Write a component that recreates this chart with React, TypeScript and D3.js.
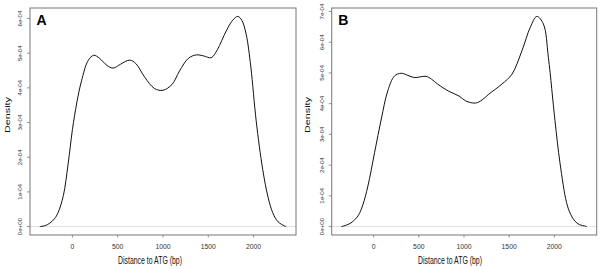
import React from "react";
import * as d3 from "d3";

const bpA = [-360, -300, -250, -200, -159, -100, -48, 0, 50, 100, 172, 235, 300, 380, 448, 530, 632, 700, 800, 907, 1000, 1100, 1183, 1280, 1367, 1450, 1532, 1600, 1698, 1770, 1826, 1870, 1918, 1970, 2029, 2101, 2160, 2212, 2270, 2341, 2360];
const densA = [0, 0.03, 0.1, 0.22, 0.4, 0.9, 1.8, 2.8, 3.6, 4.2, 4.78, 4.94, 4.85, 4.65, 4.57, 4.68, 4.8, 4.7, 4.3, 3.98, 3.93, 4.1, 4.49, 4.85, 4.95, 4.92, 4.87, 5.1, 5.64, 5.95, 6.06, 5.95, 5.55, 4.6, 3.05, 1.65, 0.85, 0.4, 0.14, 0.02, 0];

const bpB = [-355, -300, -250, -172, -120, -63, 11, 85, 157, 231, 304, 380, 451, 579, 640, 707, 835, 945, 1019, 1129, 1200, 1275, 1421, 1531, 1641, 1733, 1806, 1879, 1934, 2007, 2062, 2135, 2180, 2227, 2280, 2337, 2360];
const densB = [0, 0.05, 0.12, 0.35, 0.7, 1.32, 2.41, 3.5, 4.42, 4.9, 4.99, 4.92, 4.85, 4.89, 4.8, 4.64, 4.4, 4.25, 4.09, 4.02, 4.12, 4.31, 4.64, 4.96, 5.72, 6.48, 6.84, 6.59, 5.5, 3.45, 2.08, 0.78, 0.4, 0.18, 0.06, 0.02, 0];

const xTicks = [0, 500, 1000, 1500, 2000];
const yTicksA = [0, 1, 2, 3, 4, 5, 6];
const yTicksB = [0, 1, 2, 3, 4, 5, 6, 7];
const yTickLabels = ["0e+00", "1e-04", "2e-04", "3e-04", "4e-04", "5e-04", "6e-04", "7e-04"];

const FONT = "'Liberation Sans', Arial, Helvetica, sans-serif";

type PanelProps = {
  ox: number;
  left: number;
  right: number;
  letter: string;
  bp: number[];
  dens: number[];
  yTicks: number[];
};

function Panel({ ox, left, right, letter, bp, dens, yTicks }: PanelProps) {
  const top = 8;
  const bottom = 235;
  const xmin = d3.min(bp)!;
  const xmax = d3.max(bp)!;
  const xp = (xmax - xmin) * 0.04;
  const ymax = d3.max(dens)!;
  const yp = ymax * 0.04;
  const x = d3.scaleLinear().domain([xmin - xp, xmax + xp]).range([left, right]);
  const y = d3.scaleLinear().domain([-yp, ymax + yp]).range([bottom, top]);
  const pts: [number, number][] = bp.map((b, i) => [b, dens[i]]);
  const line = d3
    .line<[number, number]>()
    .x((d) => x(d[0]))
    .y((d) => y(d[1]))
    .curve(d3.curveCatmullRom.alpha(0.5));
  const gray = "#777";
  const midX = (left + right) / 2;
  return (
    <g>
      <line x1={left} x2={right} y1={y(0)} y2={y(0)} stroke="#d8d8d8" strokeWidth={0.8} />
      <path d={line(pts) || ""} fill="none" stroke="#111" strokeWidth={1} />
      <rect x={left} y={top} width={right - left} height={bottom - top} fill="none" stroke={gray} strokeWidth={1} />
      {xTicks.map((t) => (
        <g key={"x" + t}>
          <line x1={x(t)} x2={x(t)} y1={bottom} y2={bottom + 2.5} stroke={gray} strokeWidth={0.8} />
          <text x={x(t)} y={248.5} fontSize={6.8} textAnchor="middle" fill="#333" fontFamily={FONT}>
            {t}
          </text>
        </g>
      ))}
      {yTicks.map((t) => (
        <g key={"y" + t}>
          <line x1={left - 3} x2={left} y1={y(t)} y2={y(t)} stroke={gray} strokeWidth={0.8} />
          <text
            transform={`translate(${left - 8},${y(t)}) rotate(-90)`}
            fontSize={6.2}
            textAnchor="middle"
            fill="#333"
            fontFamily={FONT}
          >
            {yTickLabels[t]}
          </text>
        </g>
      ))}
      <text x={ox + 150} y={264} fontSize={10.5} textAnchor="middle" fill="#111" fontFamily={FONT} textLength={64} lengthAdjust="spacingAndGlyphs">
        Distance to ATG (bp)
      </text>
      <text
        transform={`translate(${ox + 9.5},115) rotate(-90) scale(1,0.7)`}
        fontSize={10.8}
        textAnchor="middle"
        fill="#111"
        fontFamily={FONT}
      >
        Density
      </text>
      <text x={left + 6.5} y={25} fontSize={14} fontWeight="bold" fill="#000" fontFamily={FONT}>
        {letter}
      </text>
    </g>
  );
}

export default function App() {
  return (
    <svg width={600} height={269} style={{ position: "absolute", left: 0, top: 0, background: "#fff" }}>
      <rect width={600} height={269} fill="#fff" />
      <Panel ox={0} left={30} right={296} letter="A" bp={bpA} dens={densA} yTicks={yTicksA} />
      <Panel ox={300} left={331.7} right={596.7} letter="B" bp={bpB} dens={densB} yTicks={yTicksB} />
    </svg>
  );
}
